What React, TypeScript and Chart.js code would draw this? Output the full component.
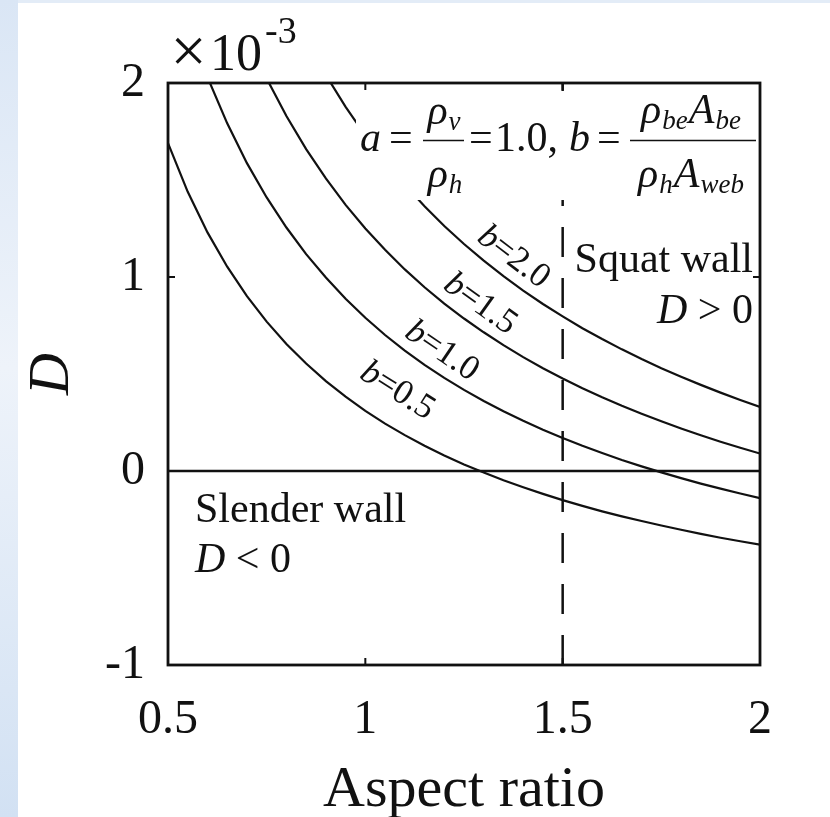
import React, { useEffect, useRef } from 'react';
import { Chart, registerables } from 'chart.js';

Chart.register(...registerables);

// ---- data (D values in units of 1e-3) ----
const xValues = [0.5, 0.55, 0.6, 0.65, 0.7, 0.75, 0.8, 0.85, 0.9, 0.95, 1.0, 1.05, 1.1, 1.15, 1.2, 1.25, 1.3, 1.35, 1.4, 1.45, 1.5, 1.55, 1.6, 1.65, 1.7, 1.75, 1.8, 1.85, 1.9, 1.95, 2.0];
const dB05 = [1.69, 1.439, 1.23, 1.053, 0.901, 0.77, 0.655, 0.554, 0.463, 0.383, 0.31, 0.244, 0.185, 0.13, 0.08, 0.034, -0.008, -0.048, -0.084, -0.118, -0.15, -0.18, -0.208, -0.234, -0.258, -0.281, -0.303, -0.324, -0.344, -0.362, -0.38];
const dB10 = [2.65, 2.312, 2.03, 1.792, 1.587, 1.41, 1.255, 1.118, 0.997, 0.888, 0.79, 0.701, 0.621, 0.547, 0.48, 0.418, 0.361, 0.308, 0.259, 0.213, 0.17, 0.13, 0.093, 0.057, 0.024, -0.007, -0.037, -0.065, -0.091, -0.116, -0.14];
const dB15 = [3.57, 3.148, 2.797, 2.499, 2.244, 2.023, 1.83, 1.659, 1.508, 1.372, 1.25, 1.14, 1.039, 0.947, 0.863, 0.786, 0.715, 0.649, 0.587, 0.53, 0.477, 0.427, 0.38, 0.336, 0.295, 0.256, 0.219, 0.184, 0.151, 0.12, 0.09];
const dB20 = [4.53, 4.021, 3.597, 3.238, 2.93, 2.663, 2.43, 2.224, 2.041, 1.877, 1.73, 1.597, 1.475, 1.365, 1.263, 1.17, 1.084, 1.004, 0.93, 0.861, 0.797, 0.736, 0.68, 0.627, 0.577, 0.53, 0.486, 0.444, 0.404, 0.366, 0.33];
const curveSeries = [dB05, dB10, dB15, dB20];
const curveLabels = ['0.5', '1.0', '1.5', '2.0'];
const labelAnchorX = [1.035, 1.164, 1.26, 1.343];
const labelOffset = [34, 21, 21, 21];
const xTicks = [0.5, 1, 1.5, 2];
const yTicks = [-1, 0, 1, 2];
const dividerX = 1.5;

const SERIF = '"Liberation Serif", "Times New Roman", Times, serif';
const INK = '#111111';

function valueAt(ys: number[], x: number): number {
  for (let i = 0; i < xValues.length - 1; i++) {
    const x0 = xValues[i];
    const x1 = xValues[i + 1];
    if (x >= x0 && x <= x1) {
      const t = (x - x0) / (x1 - x0);
      return ys[i] + t * (ys[i + 1] - ys[i]);
    }
  }
  return ys[ys.length - 1];
}

type Piece = { t: string; font: string; dy?: number };

function drawRun(ctx: CanvasRenderingContext2D, pieces: Piece[], x: number, baseline: number, align: 'left' | 'center' | 'right', gap = 0) {
  let total = 0;
  const widths = pieces.map((p) => {
    ctx.font = p.font;
    const w = ctx.measureText(p.t).width;
    total += w;
    return w;
  });
  total += gap * (pieces.length - 1);
  let cx = align === 'left' ? x : align === 'center' ? x - total / 2 : x - total;
  ctx.textAlign = 'left';
  ctx.textBaseline = 'alphabetic';
  pieces.forEach((p, i) => {
    ctx.font = p.font;
    ctx.fillText(p.t, cx, baseline + (p.dy || 0));
    cx += widths[i] + gap;
  });
}

const overlayPlugin = {
  id: 'overlay',
  afterDatasetsDraw(chart: any) {
    const { ctx, chartArea: ca } = chart;
    const xs = chart.scales.x;
    const ys = chart.scales.y;
    const fx = (px: number) => ca.left + (px - 168);
    const fy = (py: number) => ca.top + (py - 83);
    ctx.save();
    ctx.fillStyle = INK;
    ctx.strokeStyle = INK;

    // white box behind the formula
    ctx.fillStyle = '#ffffff';
    ctx.fillRect(fx(356), fy(91), ca.right - 2 - fx(356), fy(200) - fy(91));
    ctx.fillStyle = INK;

    // formula
    const MI = `italic 42px ${SERIF}`;
    const M = `42px ${SERIF}`;
    const S = `italic 27px ${SERIF}`;
    drawRun(ctx, [{ t: 'a', font: MI }], fx(360), fy(151), 'left');
    drawRun(ctx, [{ t: '=', font: M }], fx(389), fy(151), 'left');
    drawRun(ctx, [{ t: 'ρ', font: MI }, { t: 'v', font: S, dy: 6 }], fx(444), fy(124), 'center', 1);
    drawRun(ctx, [{ t: 'ρ', font: MI }, { t: 'h', font: S, dy: 6 }], fx(445), fy(187), 'center', 1);
    ctx.lineWidth = 1.6;
    ctx.beginPath();
    ctx.moveTo(fx(423), fy(140.5));
    ctx.lineTo(fx(464), fy(140.5));
    ctx.stroke();
    drawRun(ctx, [{ t: '=', font: M }], fx(469), fy(151), 'left');
    drawRun(ctx, [{ t: '1.0,', font: M }], fx(495), fy(151), 'left');
    drawRun(ctx, [{ t: 'b', font: MI }], fx(569), fy(151), 'left');
    drawRun(ctx, [{ t: '=', font: M }], fx(597), fy(151), 'left');
    drawRun(ctx, [
      { t: 'ρ', font: MI }, { t: 'be', font: S, dy: 6 }, { t: 'A', font: MI }, { t: 'be', font: S, dy: 6 },
    ], fx(691), fy(123), 'center', 1);
    drawRun(ctx, [
      { t: 'ρ', font: MI }, { t: 'h', font: S, dy: 6 }, { t: 'A', font: MI }, { t: 'web', font: S, dy: 6 },
    ], fx(691), fy(187), 'center', 1);
    ctx.beginPath();
    ctx.moveTo(fx(630), fy(140.5));
    ctx.lineTo(fx(756), fy(140.5));
    ctx.stroke();

    // region notes
    const T = `42px ${SERIF}`;
    const TI = `italic 42px ${SERIF}`;
    drawRun(ctx, [{ t: 'Squat wall', font: T }], ca.right - 7, fy(272), 'right');
    drawRun(ctx, [{ t: 'D', font: TI }, { t: ' > 0', font: T }], ca.right - 7, fy(323), 'right');
    drawRun(ctx, [{ t: 'Slender wall', font: T }], ca.left + 27, fy(522), 'left');
    drawRun(ctx, [{ t: 'D', font: TI }, { t: ' < 0', font: T }], ca.left + 27, fy(572), 'left');

    // curve labels
    curveSeries.forEach((series, i) => {
      const xv = labelAnchorX[i];
      const px = xs.getPixelForValue(xv);
      const py = ys.getPixelForValue(valueAt(series, xv));
      const pa = { x: xs.getPixelForValue(xv - 0.04), y: ys.getPixelForValue(valueAt(series, xv - 0.04)) };
      const pb = { x: xs.getPixelForValue(xv + 0.04), y: ys.getPixelForValue(valueAt(series, xv + 0.04)) };
      const ang = Math.atan2(pb.y - pa.y, pb.x - pa.x);
      const d = labelOffset[i];
      const cx = px + d * Math.sin(ang);
      const cy = py - d * Math.cos(ang);
      ctx.save();
      ctx.translate(cx, cy);
      ctx.rotate(ang);
      const fI = `italic 35px ${SERIF}`;
      const fR = `35px ${SERIF}`;
      ctx.font = fI;
      const wb = ctx.measureText('b').width;
      ctx.font = fR;
      const wr = ctx.measureText('=' + curveLabels[i]).width;
      const start = -(wb + wr) / 2;
      ctx.textAlign = 'left';
      ctx.textBaseline = 'middle';
      ctx.font = fI;
      ctx.fillText('b', start, 0);
      ctx.font = fR;
      ctx.fillText('=' + curveLabels[i], start + wb, 0);
      ctx.restore();
    });

    // exponent label
    ctx.fillStyle = INK;
    ctx.font = `64px ${SERIF}`;
    ctx.textAlign = 'center';
    ctx.textBaseline = 'alphabetic';
    ctx.fillText('×', ca.left + 20.5, ca.top - 11);
    drawRun(ctx, [{ t: '10', font: `52px ${SERIF}` }], ca.left + 42, ca.top - 13, 'left');
    drawRun(ctx, [{ t: '-3', font: `38px ${SERIF}` }], ca.left + 97, ca.top - 40, 'left');

    // frame and inward ticks
    ctx.lineWidth = 2.8;
    ctx.strokeStyle = INK;
    ctx.strokeRect(ca.left, ca.top, ca.right - ca.left, ca.bottom - ca.top);
    ctx.lineWidth = 2;
    const tl = 7;
    ctx.beginPath();
    xTicks.forEach((v) => {
      const p = xs.getPixelForValue(v);
      ctx.moveTo(p, ca.bottom);
      ctx.lineTo(p, ca.bottom - tl);
      ctx.moveTo(p, ca.top);
      ctx.lineTo(p, ca.top + tl);
    });
    yTicks.forEach((v) => {
      const p = ys.getPixelForValue(v);
      ctx.moveTo(ca.left, p);
      ctx.lineTo(ca.left + tl, p);
      ctx.moveTo(ca.right, p);
      ctx.lineTo(ca.right - tl, p);
    });
    ctx.stroke();
    ctx.restore();
  },
};

export default function App() {
  const ref = useRef<HTMLCanvasElement>(null);

  useEffect(() => {
    const canvas = ref.current;
    if (!canvas) return;
    const curveDs = curveSeries.map((series, i) => ({
      label: 'b=' + curveLabels[i],
      data: xValues.map((x, j) => ({ x, y: series[j] })),
      borderColor: INK,
      borderWidth: 2.2,
      pointRadius: 0,
      tension: 0,
      fill: false,
    }));
    const chart = new Chart(canvas, {
      type: 'line',
      data: {
        datasets: [
          ...curveDs,
          {
            label: 'D=0',
            data: [{ x: xTicks[0], y: 0 }, { x: xTicks[xTicks.length - 1], y: 0 }],
            borderColor: INK,
            borderWidth: 2.5,
            pointRadius: 0,
            fill: false,
          },
          {
            label: 'aspect ratio 1.5',
            data: [{ x: dividerX, y: yTicks[0] }, { x: dividerX, y: yTicks[yTicks.length - 1] }],
            borderColor: INK,
            borderWidth: 2.5,
            borderDash: [30, 21],
            borderCapStyle: 'butt',
            pointRadius: 0,
            fill: false,
          },
        ],
      } as any,
      options: {
        responsive: false,
        devicePixelRatio: 1,
        animation: false,
        events: [],
        layout: { padding: { left: 18, top: 83, right: 70, bottom: 0 } },
        plugins: { legend: { display: false }, tooltip: { enabled: false } },
        scales: {
          x: {
            type: 'linear',
            min: 0.5,
            max: 2,
            afterFit: (s: any) => { s.height = 152; },
            afterBuildTicks: (s: any) => { s.ticks = xTicks.map((v) => ({ value: v })); },
            grid: { display: false, drawTicks: false, tickLength: 0 },
            border: { display: false },
            ticks: {
              autoSkip: false,
              maxRotation: 0,
              padding: 27,
              color: INK,
              font: { family: SERIF, size: 48 },
              callback: (v: any) => String(v),
            },
            title: {
              display: true,
              text: 'Aspect ratio',
              color: INK,
              font: { family: SERIF, size: 58, lineHeight: 0.92 },
              padding: { top: 0, bottom: 0 },
            },
          },
          y: {
            type: 'linear',
            min: -1,
            max: 2,
            afterFit: (s: any) => { s.width = 150; },
            afterBuildTicks: (s: any) => { s.ticks = yTicks.map((v) => ({ value: v })); },
            grid: { display: false, drawTicks: false, tickLength: 0 },
            border: { display: false },
            ticks: {
              autoSkip: false,
              padding: 23,
              color: INK,
              font: { family: SERIF, size: 48 },
              callback: (v: any) => String(v),
            },
            title: {
              display: true,
              text: 'D',
              color: INK,
              font: { family: SERIF, size: 58, style: 'italic', lineHeight: 1 },
              padding: { top: 6, bottom: 0 },
            },
          },
        },
      } as any,
      plugins: [overlayPlugin],
    });
    return () => chart.destroy();
  }, []);

  return (
    <div style={{ position: 'absolute', left: 0, top: 0, width: 830, height: 817, background: '#ffffff', overflow: 'hidden' }}>
      <div style={{ position: 'absolute', left: 0, top: 0, width: 830, height: 3, background: '#e3ecf7' }} />
      <div
        style={{
          position: 'absolute', left: 0, top: 0, width: 18, height: 817,
          background: 'linear-gradient(180deg, #dae6f5 0%, #eef3fa 45%, #d2e1f3 100%)',
        }}
      />
      <canvas ref={ref} width={830} height={817} style={{ position: 'absolute', left: 0, top: 0, width: 830, height: 817 }} />
    </div>
  );
}
